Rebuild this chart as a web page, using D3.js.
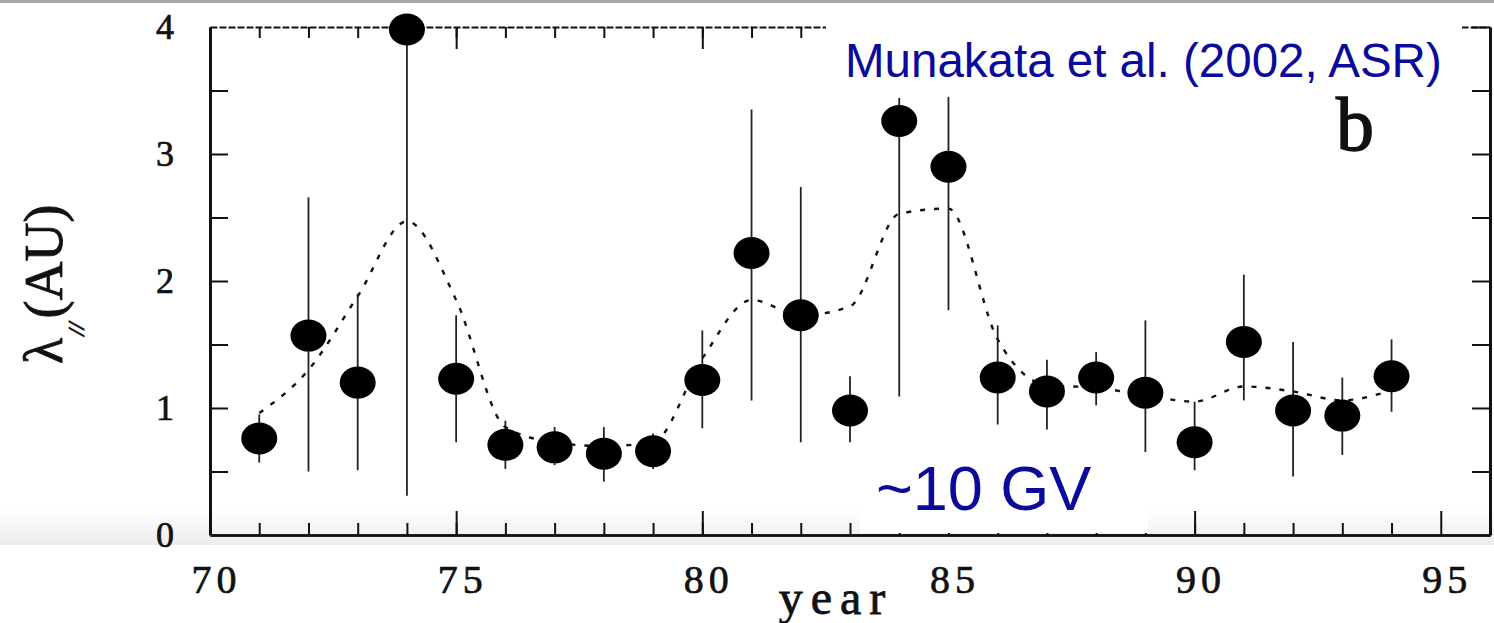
<!DOCTYPE html>
<html>
<head>
<meta charset="utf-8">
<script src="https://cdn.jsdelivr.net/npm/d3@7"></script>
<style>
  body { margin: 0; background: #fff; }
  svg { display: block; }
  .tick text { font-family: "Liberation Serif", "DejaVu Serif", serif; fill: #111; stroke: #111; stroke-width: 0.7; }
</style>
</head>
<body>
<div id="chart"></div>
<script>
/* data */
var years   = [71, 72, 73, 74, 75, 76, 77, 78, 79, 80, 81, 82, 83, 84, 85, 86, 87, 88, 89, 90, 91, 92, 93, 94];
var lambda  = [0.76, 1.57, 1.20, 3.98, 1.23, 0.71, 0.69, 0.64, 0.66, 1.22, 2.22, 1.73, 0.98, 3.26, 2.90, 1.24, 1.13, 1.24, 1.12, 0.73, 1.52, 0.98, 0.94, 1.25];
var errLow  = [0.57, 0.50, 0.51, 0.31, 0.73, 0.52, 0.55, 0.42, 0.52, 0.84, 1.06, 0.73, 0.73, 1.09, 1.77, 0.87, 0.83, 1.02, 0.54, 0.51, 1.06, 0.46, 0.63, 0.97];
var errHigh = [0.95, 2.66, 1.90, 4.00, 1.73, 0.90, 0.85, 0.85, 0.80, 1.61, 3.35, 2.74, 1.25, 3.44, 3.45, 1.65, 1.38, 1.44, 1.69, 1.05, 2.05, 1.52, 1.24, 1.54];
var smooth  = [0.96, 1.30, 1.88, 2.47, 1.85, 0.85, 0.73, 0.70, 0.73, 1.39, 1.85, 1.73, 1.80, 2.53, 2.57, 1.54, 1.18, 1.16, 1.10, 1.05, 1.17, 1.13, 1.06, 1.14];

var xTicks = [70, 75, 80, 85, 90, 95];
var yTicks = [0, 1, 2, 3, 4];
var yHalfTicks = [0.5, 1, 1.5, 2, 2.5, 3, 3.5];

/* constants */
var W = 1494, H = 623;
var blue = "#0a0a9c";

var svg = d3.select("#chart").append("svg")
    .attr("width", W)
    .attr("height", H);

var x = d3.scaleLinear().domain([70, 96]).range([210, 1490]);
var y = d3.scaleLinear().domain([0, 4]).range([535, 27]);

// slide background bits: grey strip on top, faint band at the bottom of the scan
var defs = svg.append("defs");
var grad = defs.append("linearGradient").attr("id", "band")
    .attr("x1", 0).attr("y1", 0).attr("x2", 0).attr("y2", 1);
grad.append("stop").attr("offset", "0%").attr("stop-color", "#ffffff");
grad.append("stop").attr("offset", "100%").attr("stop-color", "#ececec");

svg.append("rect").attr("x", 0).attr("y", 0).attr("width", W).attr("height", 3).attr("fill", "#a6a6a6");
svg.append("rect").attr("x", 0).attr("y", 508).attr("width", W).attr("height", 37).attr("fill", "url(#band)");

/* axes */
function styleAxis(g, w) {
    g.select(".domain").attr("stroke", "#111").attr("stroke-width", w);
    g.selectAll(".tick line").attr("stroke", "#111").attr("stroke-width", 2);
}

// bottom: minor every year, major every 5 with labels
svg.append("g").attr("transform", "translate(0," + y(0) + ")")
    .call(d3.axisBottom(x).tickValues(years).tickSizeInner(-12).tickSizeOuter(0).tickFormat(""))
    .call(styleAxis, 2.5);
var bottomMajor = svg.append("g").attr("transform", "translate(0," + y(0) + ")")
    .call(d3.axisBottom(x).tickValues(xTicks).tickSizeInner(-24).tickSizeOuter(0).tickPadding(30).tickFormat(d3.format("d")))
    .call(styleAxis, 2.5);
bottomMajor.selectAll(".tick text")
    .attr("font-size", 40)
    .attr("letter-spacing", 5)
    .attr("dx", 6);

// top: same ticks, no labels (the scanned line is broken)
svg.append("g").attr("transform", "translate(0," + y(4) + ")")
    .call(d3.axisTop(x).tickValues(years).tickSizeInner(-11).tickSizeOuter(0).tickFormat(""))
    .call(styleAxis, 2)
    .select(".domain").attr("stroke-dasharray", "7,2");
svg.append("g").attr("transform", "translate(0," + y(4) + ")")
    .call(d3.axisTop(x).tickValues(xTicks).tickSizeInner(-22).tickSizeOuter(0).tickFormat(""))
    .call(styleAxis, 2)
    .select(".domain").remove();

// left: ticks every 0.5, labels on integers
svg.append("g").attr("transform", "translate(" + x(70) + ",0)")
    .call(d3.axisLeft(y).tickValues(yHalfTicks).tickSizeInner(-18).tickSizeOuter(0).tickFormat(""))
    .call(styleAxis, 3);
var leftLabels = svg.append("g").attr("transform", "translate(" + x(70) + ",0)")
    .call(d3.axisLeft(y).tickValues(yTicks).tickSizeInner(0).tickSizeOuter(0).tickPadding(36).tickFormat(d3.format("d")));
leftLabels.select(".domain").remove();
leftLabels.selectAll(".tick text").attr("font-size", 36);

// right
svg.append("g").attr("transform", "translate(" + x(96) + ",0)")
    .call(d3.axisRight(y).tickValues(yHalfTicks.concat([4])).tickSizeInner(-18).tickSizeOuter(0).tickFormat(""))
    .call(styleAxis, 3);

/* smoothed curve */
var line = d3.line()
    .x(function(d, i) { return x(years[i]); })
    .y(function(d) { return y(d); })
    .curve(d3.curveMonotoneX);

svg.append("path")
    .datum(smooth)
    .attr("d", line)
    .attr("fill", "none")
    .attr("stroke", "#111")
    .attr("stroke-width", 2.4)
    .attr("stroke-dasharray", "5,9");

/* error bars */
svg.append("g").selectAll("line")
    .data(years)
    .enter()
    .append("line")
    .attr("x1", function(d) { return x(d); })
    .attr("x2", function(d) { return x(d); })
    .attr("y1", function(d, i) { return y(errLow[i]); })
    .attr("y2", function(d, i) { return y(errHigh[i]); })
    .attr("stroke", "#222")
    .attr("stroke-width", 1.8);

/* points */
svg.append("g").selectAll("ellipse")
    .data(years)
    .enter()
    .append("ellipse")
    .attr("cx", function(d) { return x(d); })
    .attr("cy", function(d, i) { return y(lambda[i]); })
    .attr("rx", 18)
    .attr("ry", 16)
    .attr("fill", "#000");

/* panel letter */
svg.append("text")
    .attr("x", 1336)
    .attr("y", 150)
    .attr("font-family", "Liberation Serif, serif")
    .attr("font-size", 76)
    .attr("fill", "#111")
    .attr("stroke", "#111")
    .attr("stroke-width", 1.5)
    .text("b");

/* axis titles */
svg.append("text")
    .attr("x", 836)
    .attr("y", 614)
    .attr("text-anchor", "middle")
    .attr("font-family", "Liberation Serif, serif")
    .attr("font-size", 48)
    .attr("letter-spacing", 8)
    .attr("fill", "#111")
    .attr("stroke", "#111")
    .attr("stroke-width", 0.8)
    .text("year");

var ytitle = svg.append("text")
    .attr("transform", "translate(62,364) rotate(-90)")
    .attr("font-family", "Liberation Serif, serif")
    .attr("font-size", 54)
    .attr("fill", "#111")
    .attr("stroke", "#111")
    .attr("stroke-width", 0.8);
ytitle.append("tspan").text("λ");
ytitle.append("tspan").attr("font-size", 24).attr("font-style", "italic").attr("dy", 22).attr("dx", 2).text("//");
ytitle.append("tspan").attr("dy", -22).attr("dx", 4).text("(AU)");

/* slide overlays: white text boxes */
svg.append("rect").attr("x", 826).attr("y", 3).attr("width", 636).attr("height", 93).attr("fill", "#fff");
svg.append("rect").attr("x", 860).attr("y", 452).attr("width", 288).attr("height", 81).attr("fill", "#fff");

svg.append("text")
    .attr("x", 845)
    .attr("y", 77)
    .attr("font-family", "Liberation Sans, Arial, sans-serif")
    .attr("font-size", 47.5)
    .attr("fill", blue)
    .text("Munakata et al. (2002, ASR)");

svg.append("text")
    .attr("x", 876)
    .attr("y", 510)
    .attr("font-family", "Liberation Sans, Arial, sans-serif")
    .attr("font-size", 63)
    .attr("fill", blue)
    .text("~10 GV");
</script>
</body>
</html>
